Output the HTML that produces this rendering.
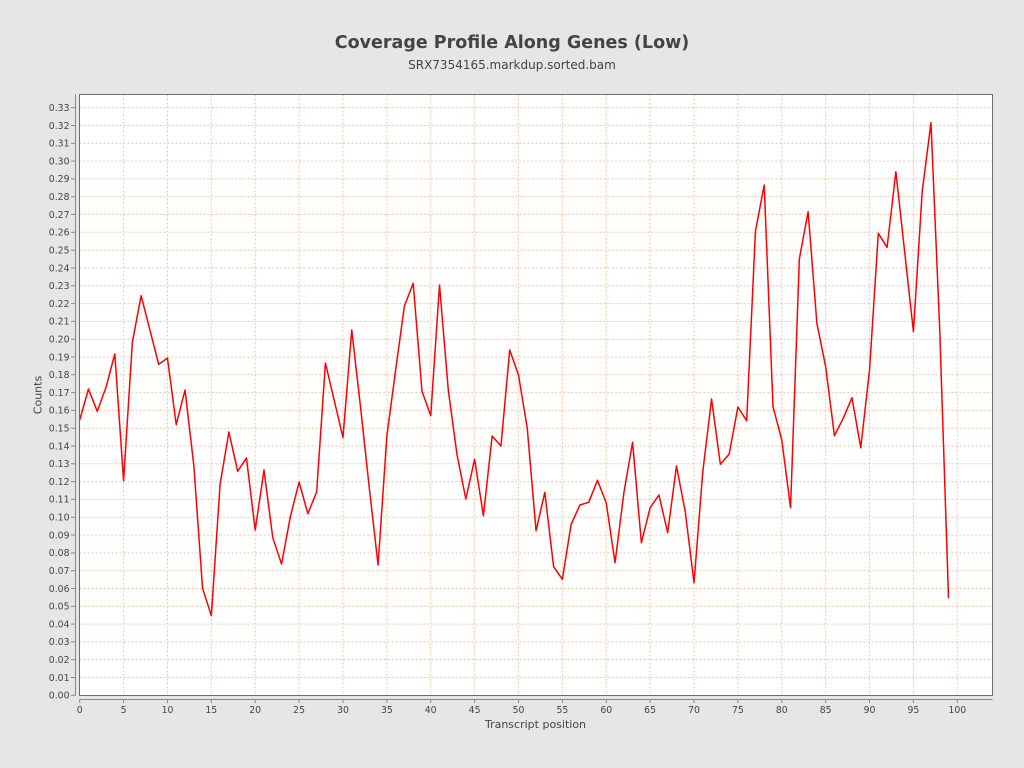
<!DOCTYPE html>
<html><head><meta charset="utf-8"><style>
html,body{margin:0;padding:0;background:#e6e6e6;}
svg{display:block;}
text{font-family:"DejaVu Sans","Liberation Sans",sans-serif;}
</style></head><body>
<svg width="1024" height="768" viewBox="0 0 1024 768" xmlns="http://www.w3.org/2000/svg">
<rect x="0" y="0" width="1024" height="768" fill="#e6e6e6"/>
<text x="512" y="48" text-anchor="middle" font-size="17.5" font-weight="bold" fill="#444">Coverage Profile Along Genes (Low)</text>
<text x="512" y="69" text-anchor="middle" font-size="12" fill="#444">SRX7354165.markdup.sorted.bam</text>
<rect x="79.5" y="94.5" width="913" height="601" fill="#ffffff"/>
<g stroke="#efc4a0" stroke-width="1" stroke-dasharray="2,2" fill="none">
<line x1="79.5" x2="992" y1="677.5" y2="677.5"/>
<line x1="79.5" x2="992" y1="659.5" y2="659.5"/>
<line x1="79.5" x2="992" y1="641.9" y2="641.9"/>
<line x1="79.5" x2="992" y1="624.1" y2="624.1"/>
<line x1="79.5" x2="992" y1="606.3" y2="606.3"/>
<line x1="79.5" x2="992" y1="588.5" y2="588.5"/>
<line x1="79.5" x2="992" y1="570.7" y2="570.7"/>
<line x1="79.5" x2="992" y1="552.9" y2="552.9"/>
<line x1="79.5" x2="992" y1="535.0" y2="535.0"/>
<line x1="79.5" x2="992" y1="517.2" y2="517.2"/>
<line x1="79.5" x2="992" y1="499.4" y2="499.4"/>
<line x1="79.5" x2="992" y1="481.6" y2="481.6"/>
<line x1="79.5" x2="992" y1="463.8" y2="463.8"/>
<line x1="79.5" x2="992" y1="446.0" y2="446.0"/>
<line x1="79.5" x2="992" y1="428.2" y2="428.2"/>
<line x1="79.5" x2="992" y1="410.4" y2="410.4"/>
<line x1="79.5" x2="992" y1="392.6" y2="392.6"/>
<line x1="79.5" x2="992" y1="374.8" y2="374.8"/>
<line x1="79.5" x2="992" y1="357.0" y2="357.0"/>
<line x1="79.5" x2="992" y1="339.2" y2="339.2"/>
<line x1="79.5" x2="992" y1="321.4" y2="321.4"/>
<line x1="79.5" x2="992" y1="303.6" y2="303.6"/>
<line x1="79.5" x2="992" y1="285.8" y2="285.8"/>
<line x1="79.5" x2="992" y1="268.0" y2="268.0"/>
<line x1="79.5" x2="992" y1="250.2" y2="250.2"/>
<line x1="79.5" x2="992" y1="232.3" y2="232.3"/>
<line x1="79.5" x2="992" y1="214.5" y2="214.5"/>
<line x1="79.5" x2="992" y1="196.7" y2="196.7"/>
<line x1="79.5" x2="992" y1="178.9" y2="178.9"/>
<line x1="79.5" x2="992" y1="161.1" y2="161.1"/>
<line x1="79.5" x2="992" y1="143.3" y2="143.3"/>
<line x1="79.5" x2="992" y1="125.5" y2="125.5"/>
<line x1="79.5" x2="992" y1="107.7" y2="107.7"/>
<line y1="94.5" y2="695" x1="123.6" x2="123.6"/>
<line y1="94.5" y2="695" x1="167.5" x2="167.5"/>
<line y1="94.5" y2="695" x1="211.3" x2="211.3"/>
<line y1="94.5" y2="695" x1="255.2" x2="255.2"/>
<line y1="94.5" y2="695" x1="299.1" x2="299.1"/>
<line y1="94.5" y2="695" x1="343.0" x2="343.0"/>
<line y1="94.5" y2="695" x1="386.9" x2="386.9"/>
<line y1="94.5" y2="695" x1="430.7" x2="430.7"/>
<line y1="94.5" y2="695" x1="474.6" x2="474.6"/>
<line y1="94.5" y2="695" x1="518.5" x2="518.5"/>
<line y1="94.5" y2="695" x1="562.4" x2="562.4"/>
<line y1="94.5" y2="695" x1="606.3" x2="606.3"/>
<line y1="94.5" y2="695" x1="650.1" x2="650.1"/>
<line y1="94.5" y2="695" x1="694.0" x2="694.0"/>
<line y1="94.5" y2="695" x1="737.9" x2="737.9"/>
<line y1="94.5" y2="695" x1="781.8" x2="781.8"/>
<line y1="94.5" y2="695" x1="825.7" x2="825.7"/>
<line y1="94.5" y2="695" x1="869.5" x2="869.5"/>
<line y1="94.5" y2="695" x1="913.4" x2="913.4"/>
<line y1="94.5" y2="695" x1="957.3" x2="957.3"/>
</g>
<polyline transform="translate(79.7,0) scale(8.776,1)" vector-effect="non-scaling-stroke" fill="none" stroke="#ff0000" stroke-width="1.5" stroke-linejoin="round"
points="0,420 1,389 2,411.3 3,387.3 4,354 5,480.7 6,342.3 7,295.7 8,330 9,364.3 10,358 11,424.7 12,390 13,465 14,588.3 15,615.7 16,484 17,432 18,471.3 19,458 20,530 21,470 22,537.7 23,564 24,516.7 25,482 26,513.7 27,492 28,363 29,400.3 30,437.5 31,330 32,407 33,488 34,565 35,436 36,370 37,306 38,283.3 39,391 40,415.7 41,285 42,390 43,455 44,499 45,459.3 46,515.7 47,436 48,446 49,350 50,375 51,428.3 52,530.7 53,492.3 54,566.7 55,579.3 56,524.3 57,505 58,502.3 59,480.3 60,503 61,562.7 62,493.3 63,442.3 64,542.7 65,507.7 66,495 67,532.7 68,466 69,511.7 70,582.7 71,471.7 72,399 73,464.3 74,454.3 75,407 76,420.7 77,231 78,185 79,406.7 80,440 81,507.7 82,259 83,211.7 84,323.3 85,366.7 86,435.7 87,418.3 88,397.7 89,447.7 90,370 91,233.3 92,247.3 93,171.7 94,251.7 95,331.7 96,191.7 97,122.7 98,330 99,598.3"/>
<rect x="79.5" y="94.5" width="913" height="601" fill="none" stroke="#6e6e6e" stroke-width="1"/>
<line x1="75.5" y1="94.5" x2="75.5" y2="695.5" stroke="#888" stroke-width="1"/>
<line x1="79.5" y1="699.5" x2="992.5" y2="699.5" stroke="#888" stroke-width="1"/>
<g stroke="#888" stroke-width="1">
<line x1="71" x2="75.5" y1="695.3" y2="695.3"/><line x1="71" x2="75.5" y1="677.5" y2="677.5"/><line x1="71" x2="75.5" y1="659.7" y2="659.7"/><line x1="71" x2="75.5" y1="641.9" y2="641.9"/><line x1="71" x2="75.5" y1="624.1" y2="624.1"/><line x1="71" x2="75.5" y1="606.3" y2="606.3"/><line x1="71" x2="75.5" y1="588.5" y2="588.5"/><line x1="71" x2="75.5" y1="570.7" y2="570.7"/><line x1="71" x2="75.5" y1="552.9" y2="552.9"/><line x1="71" x2="75.5" y1="535.0" y2="535.0"/><line x1="71" x2="75.5" y1="517.2" y2="517.2"/><line x1="71" x2="75.5" y1="499.4" y2="499.4"/><line x1="71" x2="75.5" y1="481.6" y2="481.6"/><line x1="71" x2="75.5" y1="463.8" y2="463.8"/><line x1="71" x2="75.5" y1="446.0" y2="446.0"/><line x1="71" x2="75.5" y1="428.2" y2="428.2"/><line x1="71" x2="75.5" y1="410.4" y2="410.4"/><line x1="71" x2="75.5" y1="392.6" y2="392.6"/><line x1="71" x2="75.5" y1="374.8" y2="374.8"/><line x1="71" x2="75.5" y1="357.0" y2="357.0"/><line x1="71" x2="75.5" y1="339.2" y2="339.2"/><line x1="71" x2="75.5" y1="321.4" y2="321.4"/><line x1="71" x2="75.5" y1="303.6" y2="303.6"/><line x1="71" x2="75.5" y1="285.8" y2="285.8"/><line x1="71" x2="75.5" y1="268.0" y2="268.0"/><line x1="71" x2="75.5" y1="250.2" y2="250.2"/><line x1="71" x2="75.5" y1="232.3" y2="232.3"/><line x1="71" x2="75.5" y1="214.5" y2="214.5"/><line x1="71" x2="75.5" y1="196.7" y2="196.7"/><line x1="71" x2="75.5" y1="178.9" y2="178.9"/><line x1="71" x2="75.5" y1="161.1" y2="161.1"/><line x1="71" x2="75.5" y1="143.3" y2="143.3"/><line x1="71" x2="75.5" y1="125.5" y2="125.5"/><line x1="71" x2="75.5" y1="107.7" y2="107.7"/>
<line y1="699.5" y2="703" x1="79.7" x2="79.7"/><line y1="699.5" y2="703" x1="123.6" x2="123.6"/><line y1="699.5" y2="703" x1="167.5" x2="167.5"/><line y1="699.5" y2="703" x1="211.3" x2="211.3"/><line y1="699.5" y2="703" x1="255.2" x2="255.2"/><line y1="699.5" y2="703" x1="299.1" x2="299.1"/><line y1="699.5" y2="703" x1="343.0" x2="343.0"/><line y1="699.5" y2="703" x1="386.9" x2="386.9"/><line y1="699.5" y2="703" x1="430.7" x2="430.7"/><line y1="699.5" y2="703" x1="474.6" x2="474.6"/><line y1="699.5" y2="703" x1="518.5" x2="518.5"/><line y1="699.5" y2="703" x1="562.4" x2="562.4"/><line y1="699.5" y2="703" x1="606.3" x2="606.3"/><line y1="699.5" y2="703" x1="650.1" x2="650.1"/><line y1="699.5" y2="703" x1="694.0" x2="694.0"/><line y1="699.5" y2="703" x1="737.9" x2="737.9"/><line y1="699.5" y2="703" x1="781.8" x2="781.8"/><line y1="699.5" y2="703" x1="825.7" x2="825.7"/><line y1="699.5" y2="703" x1="869.5" x2="869.5"/><line y1="699.5" y2="703" x1="913.4" x2="913.4"/><line y1="699.5" y2="703" x1="957.3" x2="957.3"/>
</g>
<g font-size="9.3" fill="#444" text-anchor="end">
<text x="69.5" y="698.6">0.00</text><text x="69.5" y="680.8">0.01</text><text x="69.5" y="663.0">0.02</text><text x="69.5" y="645.2">0.03</text><text x="69.5" y="627.4">0.04</text><text x="69.5" y="609.6">0.05</text><text x="69.5" y="591.8">0.06</text><text x="69.5" y="574.0">0.07</text><text x="69.5" y="556.2">0.08</text><text x="69.5" y="538.3">0.09</text><text x="69.5" y="520.5">0.10</text><text x="69.5" y="502.7">0.11</text><text x="69.5" y="484.9">0.12</text><text x="69.5" y="467.1">0.13</text><text x="69.5" y="449.3">0.14</text><text x="69.5" y="431.5">0.15</text><text x="69.5" y="413.7">0.16</text><text x="69.5" y="395.9">0.17</text><text x="69.5" y="378.1">0.18</text><text x="69.5" y="360.3">0.19</text><text x="69.5" y="342.5">0.20</text><text x="69.5" y="324.7">0.21</text><text x="69.5" y="306.9">0.22</text><text x="69.5" y="289.1">0.23</text><text x="69.5" y="271.3">0.24</text><text x="69.5" y="253.5">0.25</text><text x="69.5" y="235.6">0.26</text><text x="69.5" y="217.8">0.27</text><text x="69.5" y="200.0">0.28</text><text x="69.5" y="182.2">0.29</text><text x="69.5" y="164.4">0.30</text><text x="69.5" y="146.6">0.31</text><text x="69.5" y="128.8">0.32</text><text x="69.5" y="111.0">0.33</text>
</g>
<g font-size="9.3" fill="#444" text-anchor="middle">
<text x="79.7" y="713">0</text><text x="123.6" y="713">5</text><text x="167.5" y="713">10</text><text x="211.3" y="713">15</text><text x="255.2" y="713">20</text><text x="299.1" y="713">25</text><text x="343.0" y="713">30</text><text x="386.9" y="713">35</text><text x="430.7" y="713">40</text><text x="474.6" y="713">45</text><text x="518.5" y="713">50</text><text x="562.4" y="713">55</text><text x="606.3" y="713">60</text><text x="650.1" y="713">65</text><text x="694.0" y="713">70</text><text x="737.9" y="713">75</text><text x="781.8" y="713">80</text><text x="825.7" y="713">85</text><text x="869.5" y="713">90</text><text x="913.4" y="713">95</text><text x="957.3" y="713">100</text>
</g>
<text x="535.5" y="728" text-anchor="middle" font-size="11" fill="#444">Transcript position</text>
<text transform="translate(41.5,395) rotate(-90)" text-anchor="middle" font-size="11" fill="#444">Counts</text>
</svg>
</body></html>
